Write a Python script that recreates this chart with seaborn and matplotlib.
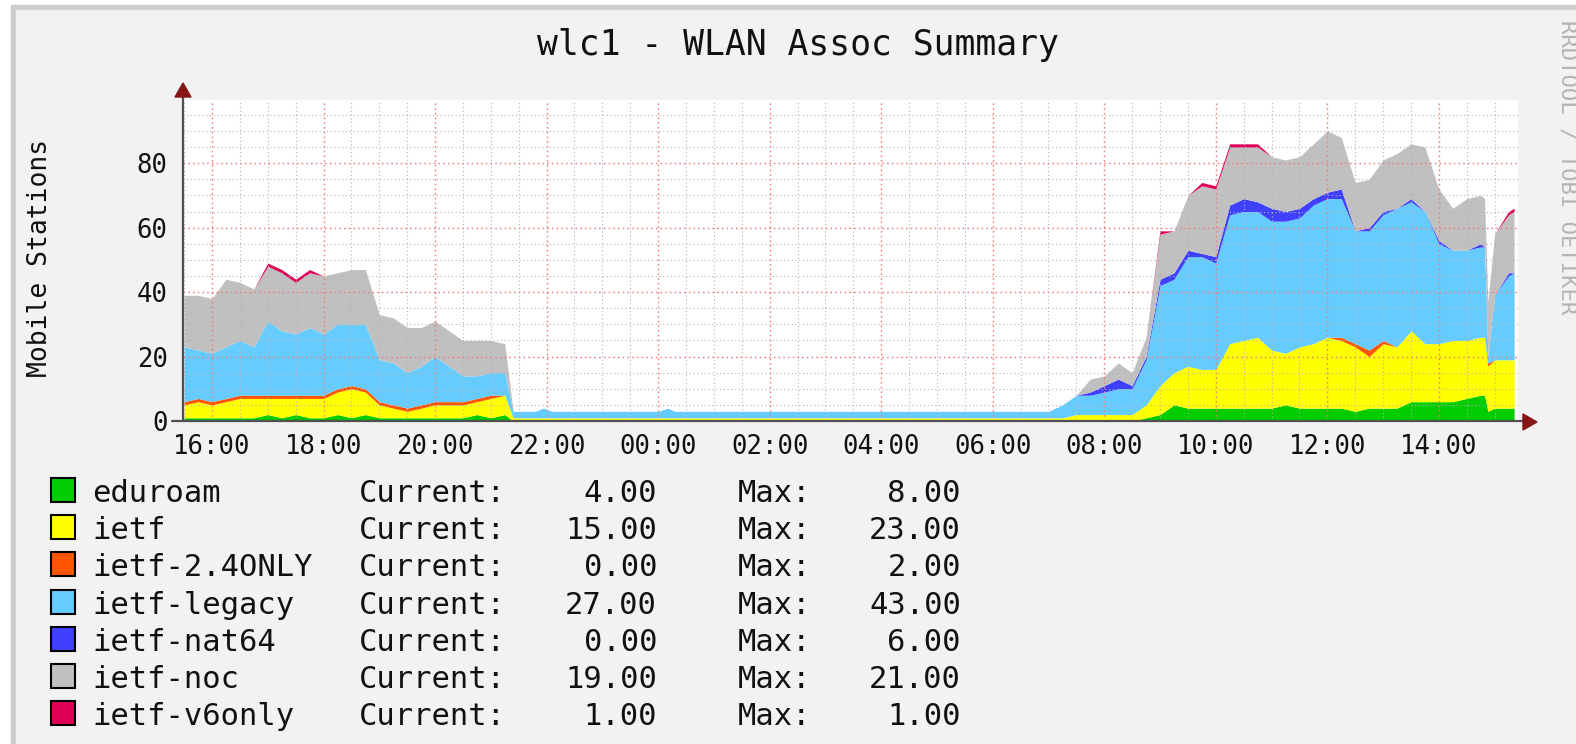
import matplotlib
matplotlib.use('Agg')
import matplotlib.pyplot as plt
import seaborn as sns
from matplotlib.patches import Rectangle, Polygon
from matplotlib.lines import Line2D

# time in hours since midnight of day 1 (values > 24 are next day)
hours = [15.5, 15.75, 16.0, 16.25, 16.5, 16.75, 17.0, 17.25, 17.5, 17.75, 18.0, 18.25,
         18.5, 18.75, 19.0, 19.25, 19.5, 19.75, 20.0, 20.25, 20.5, 20.75, 21.0, 21.25,
         21.4, 21.8, 21.94, 22.1, 23.0, 24.0, 24.18, 24.3, 25.0, 26.0, 27.0, 28.0, 29.0, 30.0, 30.9,
         31.0, 31.25, 31.5, 31.75, 32.0, 32.25, 32.5, 32.75, 33.0, 33.25, 33.5, 33.75,
         34.0, 34.25, 34.5, 34.75, 35.0, 35.25, 35.5, 35.75, 36.0, 36.25, 36.5, 36.75,
         37.0, 37.25, 37.5, 37.75, 38.0, 38.25, 38.5, 38.75,
         38.82, 38.88, 39.0, 39.25, 39.35]

eduroam = [1, 1, 1, 1, 1, 1, 2, 1, 2, 1, 1, 2, 1, 2, 1, 1, 1, 1, 1, 1, 1, 2, 1, 2,
           0, 0, 0, 0, 0, 0, 0, 0, 0, 0, 0, 0, 0, 0, 0,
           0, 0, 0, 0, 0, 0, 0, 1, 2, 5, 4, 4, 4, 4, 4, 4, 4, 5, 4, 4, 4, 4, 3, 4, 4, 4, 6, 6, 6, 6, 7, 8,
           8, 3, 4, 4, 4]
ietf = [4, 5, 4, 5, 6, 6, 5, 6, 5, 6, 6, 7, 9, 7, 4, 3, 2, 3, 4, 4, 4, 4, 6, 6,
        1, 1, 1, 1, 1, 1, 1, 1, 1, 1, 1, 1, 1, 1, 1,
        1, 1, 2, 2, 2, 2, 2, 4, 9, 10, 13, 12, 12, 20, 21, 22, 18, 16, 19, 20, 22, 21, 20, 16,
        20, 19, 22, 18, 18, 19, 18, 18,
        18, 14, 15, 15, 15]
ietf_24only = [1, 1, 1, 1, 1, 1, 1, 1, 1, 1, 1, 1, 1, 1, 1, 1, 1, 1, 1, 1, 1, 1, 1, 0,
               0, 0, 0, 0, 0, 0, 0, 0, 0, 0, 0, 0, 0, 0, 0,
               0, 0, 0, 0, 0, 0, 0, 0, 0, 0, 0, 0, 0, 0, 0, 0, 0, 0, 0, 0, 0, 1, 1, 2,
               1, 0, 0, 0, 0, 0, 0, 0,
               0, 1, 0, 0, 0]
ietf_legacy = [17, 15, 15, 16, 17, 15, 23, 20, 19, 21, 19, 20, 19, 20, 13, 13, 11, 12, 14, 11, 8, 7, 7, 7,
               2, 2, 3, 2, 2, 2, 3, 2, 2, 2, 2, 2, 2, 2, 2,
               2, 4, 6, 6, 7, 8, 8, 14, 31, 29, 34, 35, 33, 40, 40, 39, 40, 41, 40, 43, 43, 43, 35, 37,
               39, 43, 40, 41, 31, 28, 28, 28,
               28, 2, 20, 26, 27]
ietf_nat64 = [0, 0, 0, 0, 0, 0, 0, 0, 0, 0, 0, 0, 0, 0, 0, 0, 0, 0, 0, 0, 0, 0, 0, 0,
              0, 0, 0, 0, 0, 0, 0, 0, 0, 0, 0, 0, 0, 0, 0,
              0, 0, 0, 1, 2, 3, 1, 1, 2, 2, 2, 1, 2, 3, 4, 3, 4, 3, 3, 2, 2, 3, 0, 1,
              1, 0, 1, 0, 1, 0, 0, 1,
              0, 0, 0, 1, 0]
ietf_noc = [16, 17, 17, 21, 18, 18, 17, 18, 16, 17, 18, 16, 17, 17, 14, 14, 14, 12, 11, 11, 11, 11, 10, 9,
            0, 0, 0, 0, 0, 0, 0, 0, 0, 0, 0, 0, 0, 0, 0,
            0, 0, 0, 4, 3, 5, 4, 6, 14, 13, 17, 21, 21, 18, 16, 17, 16, 16, 16, 17, 19, 16, 15, 15,
            16, 17, 17, 20, 16, 13, 16, 15,
            15, 17, 19, 18, 19]
ietf_v6only = [0, 0, 0, 0, 0, 0, 1, 1, 1, 1, 0, 0, 0, 0, 0, 0, 0, 0, 0, 0, 0, 0, 0, 0,
               0, 0, 0, 0, 0, 0, 0, 0, 0, 0, 0, 0, 0, 0, 0,
               0, 0, 0, 0, 0, 0, 0, 0, 1, 0, 0, 1, 1, 1, 1, 1, 0, 0, 0, 0, 0, 0, 0, 0,
               0, 0, 0, 0, 0, 0, 0, 0,
               0, 0, 0, 1, 1]

names = ['eduroam', 'ietf', 'ietf-2.4ONLY', 'ietf-legacy', 'ietf-nat64', 'ietf-noc', 'ietf-v6only']
current = ['4.00', '15.00', '0.00', '27.00', '0.00', '19.00', '1.00']
maxima = ['8.00', '23.00', '2.00', '43.00', '6.00', '21.00', '1.00']
colors = ['#00cc00', '#ffff00', '#ff5500', '#66ccff', '#4040ff', '#c0c0c0', '#dd0055']

tick_pos = [16, 18, 20, 22, 24, 26, 28, 30, 32, 34, 36, 38]
tick_lab = ['16:00', '18:00', '20:00', '22:00', '00:00', '02:00', '04:00', '06:00',
            '08:00', '10:00', '12:00', '14:00']

sns.set_theme(style='white')
plt.rcParams['font.family'] = ['DejaVu Sans Mono']

W, H = 1576, 744
fig = plt.figure(figsize=(W / 100, H / 100), dpi=100, facecolor='white')


def fx(x):
    return x / W


def fy(y):
    return 1 - y / H


# frame of the screenshot
fig.add_artist(Rectangle((fx(11), 0), 1, fy(5), transform=fig.transFigure, color='#cccccc', zorder=0))
fig.add_artist(Rectangle((fx(16), 0), 1, fy(10), transform=fig.transFigure, color='#f2f2f2', zorder=0))

ax = fig.add_axes([fx(183), fy(421), (1518 - 183) / W, (421 - 100) / H])
ax.set_facecolor('white')
ax.stackplot(hours, eduroam, ietf, ietf_24only, ietf_legacy, ietf_nat64, ietf_noc, ietf_v6only,
             colors=colors, linewidth=0)

ax.set_xlim(15.48, 39.42)
ax.set_ylim(0, 99.6)
ax.set_xticks(tick_pos)
ax.set_xticklabels(tick_lab)
ax.set_xticks([h + 0.5 * k for h in range(15, 40) for k in (0, 1)
               if 15.48 < h + 0.5 * k < 39.42 and (h + 0.5 * k) not in tick_pos], minor=True)
ax.set_yticks([0, 20, 40, 60, 80])
ax.set_yticks([v for v in range(5, 100, 5) if v % 20], minor=True)
ax.set_axisbelow(False)
ax.grid(which='major', color='#f07c7c', linestyle=(0, (1.2, 2.2)), linewidth=1.0)
ax.grid(which='minor', color='#b4b4b4', linestyle=(0, (1.0, 2.4)), linewidth=0.8)
ax.tick_params(axis='y', which='major', direction='out', length=7, width=1, color='#909090',
               labelsize=18.5, pad=4, labelcolor='#111111')
ax.tick_params(axis='y', which='minor', direction='out', length=5, width=1, color='#b0b0b0')
ax.tick_params(axis='x', which='major', direction='inout', length=6, width=1, color='#f07c7c',
               labelsize=18.5, pad=6, labelcolor='#111111')
ax.tick_params(axis='x', which='minor', direction='out', length=3, width=1, color='#b0b0b0')
sns.despine(ax=ax, left=True, bottom=True)

# axis lines with arrow heads
fig.add_artist(Line2D([fx(183), fx(183)], [fy(421), fy(95)], transform=fig.transFigure,
                      color='#505050', linewidth=1.6, zorder=5))
fig.add_artist(Line2D([fx(172), fx(1525)], [fy(421), fy(421)], transform=fig.transFigure,
                      color='#505050', linewidth=1.6, zorder=5))
fig.add_artist(Polygon([(fx(175), fy(97)), (fx(191), fy(97)), (fx(183), fy(83))], closed=True,
                       transform=fig.transFigure, color='#861515', zorder=6))
fig.add_artist(Polygon([(fx(1523), fy(414)), (fx(1523), fy(430)), (fx(1537), fy(422))], closed=True,
                       transform=fig.transFigure, color='#861515', zorder=6))

fig.text(fx(798), fy(45), 'wlc1 - WLAN Assoc Summary', ha='center', va='center', fontsize=25,
         color='#111111')
fig.text(fx(40), fy(258), 'Mobile Stations', rotation=90, ha='center', va='center', fontsize=19,
         color='#111111')
fig.text(fx(1567), fy(20), 'RRDTOOL / TOBI OETIKER', rotation=-90, ha='center', va='top',
         fontsize=16, color='#b4b4b4')

# legend (rrdtool style)
for i, name in enumerate(names):
    base = 502 + i * 37.2
    fig.add_artist(Rectangle((fx(51), fy(base)), 24 / W, 24 / H, transform=fig.transFigure,
                             facecolor=colors[i], edgecolor='black', linewidth=1.5))
    fig.text(fx(92), fy(base), name, ha='left', va='baseline', fontsize=22, color='#111111')
    fig.text(fx(359), fy(base), 'Current:', ha='left', va='baseline', fontsize=22, color='#111111')
    fig.text(fx(657), fy(base), current[i], ha='right', va='baseline', fontsize=22, color='#111111')
    fig.text(fx(738), fy(base), 'Max:', ha='left', va='baseline', fontsize=22, color='#111111')
    fig.text(fx(961), fy(base), maxima[i], ha='right', va='baseline', fontsize=22, color='#111111')

fig.savefig('out.png', dpi=100, facecolor=fig.get_facecolor())
